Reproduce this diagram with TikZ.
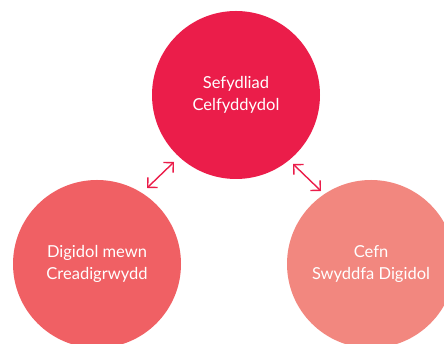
\documentclass[tikz,border=0pt]{standalone}
\usepackage{fontspec}
\setmainfont{Lato}
\usetikzlibrary{arrows.meta}
\definecolor{topred}{HTML}{EB1D4A}
\definecolor{leftred}{HTML}{F06064}
\definecolor{rightred}{HTML}{F2877F}
\begin{document}
\begin{tikzpicture}[x=1pt, y=1pt,
    unit/.style ={circle, minimum size=168pt, inner sep=0pt, text=white,
      align=center, font=\fontsize{16.5}{22}\selectfont},
    link/.style ={draw=topred, line width=1.4pt,
      {Straight Barb[length=7pt,width=14pt]}-{Straight Barb[length=7pt,width=14pt]}}]
   \useasboundingbox (0,0) rectangle (444,344);
   \node[unit, fill=topred]   (S) at (236,249) {Sefydliad\\Celfyddydol};
   \node[unit, fill=leftred]  (D) at (97,80)   {Digidol mewn\\Creadigrwydd};
   \node[unit, fill=rightred] (C) at (371,80)  {Cefn\\Swyddfa Digidol};

   \coordinate (SD1) at (174,182);
   \coordinate (SD2) at (147,156);
   \coordinate (SC1) at (293,180);
   \coordinate (SC2) at (321,153);

   \draw[link] (SD1) to (SD2);
   \draw[link] (SC1) to (SC2);

 \end{tikzpicture}
\end{document}
